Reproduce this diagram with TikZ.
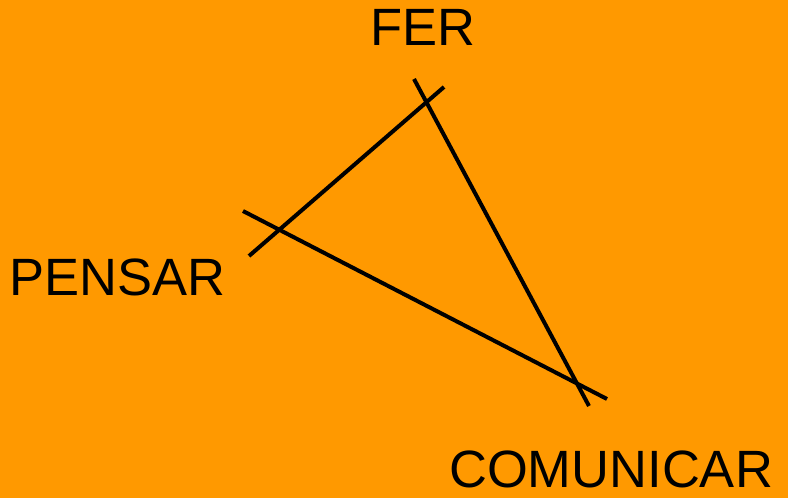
\documentclass[tikz,border=0pt]{standalone}
\usepackage{fontspec}
\setmainfont{Liberation Sans}
\definecolor{bgorange}{HTML}{FF9900}
\begin{document}
\begin{tikzpicture}[x=1pt,y=-1pt,
  lbl/.style={inner sep=0pt,anchor=base west,font=\fontsize{52.5}{52.5}\selectfont},
  side/.style={line width=4pt,black}]
\fill[bgorange] (0,0) rectangle (788,498);
\useasboundingbox (0,0) rectangle (788,498);
\node[lbl] (fer) at (370,45) {FER};
\node[lbl] (pensar) at (9,295) {PENSAR};
\node[lbl] (comunicar) at (449,487) {COMUNICAR};
\coordinate (a1) at (249,256);
\coordinate (a2) at (444,87);
\coordinate (b1) at (414,79);
\coordinate (b2) at (589,406);
\coordinate (c1) at (243,211);
\coordinate (c2) at (607,399);
\draw[side] (a1) -- (a2);
\draw[side] (b1) -- (b2);
\draw[side] (c1) -- (c2);
\end{tikzpicture}
\end{document}
